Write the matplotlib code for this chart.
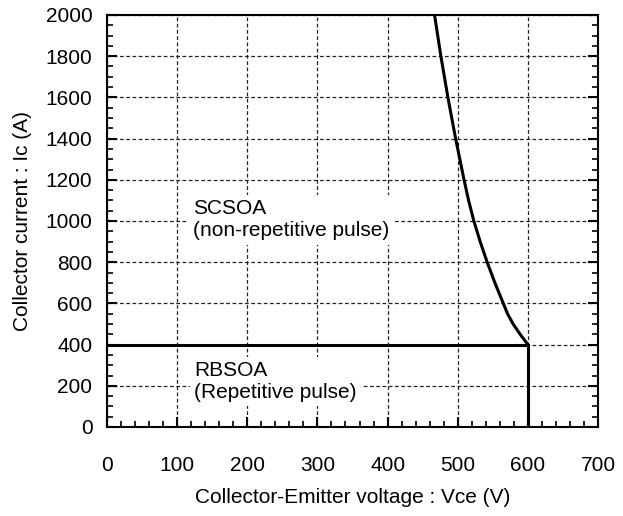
import numpy as np
import matplotlib.pyplot as plt
from matplotlib.ticker import MultipleLocator

plt.rcParams['font.family'] = ['Liberation Sans', 'DejaVu Sans']

# SCSOA boundary (non-repetitive)
scsoa_v = [600, 589, 579, 571, 565, 553, 542, 532, 523, 515.5, 509, 503, 497,
           491.5, 486, 481, 476, 471.5, 467]
scsoa_i = [400, 450, 500, 550, 600, 700, 800, 900, 1000, 1100, 1200, 1300, 1400,
           1500, 1600, 1700, 1800, 1900, 2000]

# RBSOA boundary (repetitive)
rbsoa_v = [0, 600, 600]
rbsoa_i = [400, 400, 0]

xticks = [0, 100, 200, 300, 400, 500, 600, 700]
yticks = [0, 200, 400, 600, 800, 1000, 1200, 1400, 1600, 1800, 2000]

fig = plt.figure(figsize=(6.23, 5.16), dpi=100)
ax = fig.add_axes([107/623, 1-427/516, 491/623, 412/516])

ax.set_xlim(0, 700)
ax.set_ylim(0, 2000)
ax.set_xticks(xticks)
ax.set_yticks(yticks)
ax.xaxis.set_minor_locator(MultipleLocator(20))
ax.yaxis.set_minor_locator(MultipleLocator(50))

ax.grid(True, which='major', color='#222222', linestyle=(0, (3, 2)), lw=0.9)
ax.set_axisbelow(True)

ax.plot(scsoa_v, scsoa_i, color='black', lw=2.2, solid_joinstyle='round', zorder=3)
ax.plot(rbsoa_v, rbsoa_i, color='black', lw=2.2, solid_joinstyle='miter', zorder=3)

box = dict(facecolor='white', edgecolor='none', pad=3)
ax.text(122, 1005, 'SCSOA\n(non-repetitive pulse)', fontsize=15,
        va='center', ha='left', linespacing=1.2, bbox=box, zorder=2)
ax.text(124, 221, 'RBSOA\n(Repetitive pulse)', fontsize=15,
        va='center', ha='left', linespacing=1.15, bbox=box, zorder=2)

for s in ['left', 'right', 'bottom', 'top']:
    ax.spines[s].set_linewidth(1.5)

ax.tick_params(which='both', direction='in', left=True, right=True,
               bottom=True, top=False, labelsize=15)
ax.tick_params(which='major', length=7, width=1.5)
ax.tick_params(which='minor', length=4, width=1.2)
ax.tick_params(axis='x', which='major', pad=21)
ax.tick_params(axis='y', which='major', pad=10.5)

ax.set_xlabel('Collector-Emitter voltage : Vce (V)', fontsize=15, labelpad=9)
ax.set_ylabel('Collector current : Ic (A)', fontsize=15, labelpad=10)

fig.savefig('out.png', dpi=100)
